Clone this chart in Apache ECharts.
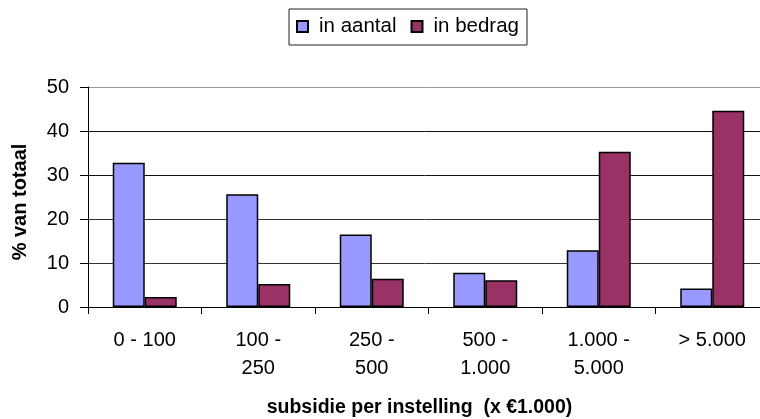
<!DOCTYPE html>
<html>
<head>
<meta charset="utf-8">
<script src="https://cdn.jsdelivr.net/npm/echarts@6/dist/echarts.min.js"></script>
<style>
  html, body { margin: 0; padding: 0; background: #fff; }
  #main { width: 760px; height: 419px; }
</style>
</head>
<body>
<div id="main"></div>
<script>
var categories = ['0 - 100', '100 -\n250', '250 -\n500', '500 -\n1.000', '1.000 -\n5.000', '> 5.000'];
var inAantal = [32.8, 25.6, 16.5, 7.8, 12.9, 4.2];
var inBedrag = [2.3, 5.2, 6.4, 6.1, 35.3, 44.6];

var font = 'Liberation Sans, Arial, sans-serif';

var option = {
    animation: false,
    backgroundColor: '#fff',
    textStyle: { fontFamily: font },
    legend: {
        top: 9,
        left: 289,
        padding: [7, 8, 8, 7],
        borderColor: '#222',
        borderWidth: 1,
        itemWidth: 11,
        itemHeight: 11,
        itemGap: 14,
        icon: 'rect',
        textStyle: { fontSize: 20.5, color: '#000', fontFamily: font, padding: [0, 0, 0, 6] },
        data: ['in aantal', 'in bedrag']
    },
    grid: {
        left: 88,
        top: 87,
        width: 681,
        height: 220,
        containLabel: false,
        outerBoundsMode: 'none'
    },
    xAxis: {
        type: 'category',
        data: categories,
        name: 'subsidie per instelling  (x \u20ac1.000)',
        nameLocation: 'middle',
        nameGap: 91,
        nameTextStyle: { fontSize: 19.5, fontWeight: 'bold', color: '#000', fontFamily: font, padding: [0, 18, 0, 0] },
        axisLine: { lineStyle: { color: '#000', width: 1 } },
        axisTick: { show: true, length: 7, lineStyle: { color: '#000' } },
        axisLabel: { fontSize: 20, color: '#000', margin: 19, lineHeight: 28, fontFamily: font }
    },
    yAxis: {
        type: 'value',
        min: 0,
        max: 50,
        interval: 10,
        name: '% van totaal',
        nameLocation: 'middle',
        nameGap: 58,
        nameRotate: 90,
        nameTextStyle: { fontSize: 20, fontWeight: 'bold', color: '#000', fontFamily: font, padding: [0, 10, 0, 0] },
        axisLine: { show: true, lineStyle: { color: '#000', width: 1 } },
        axisTick: { show: true, length: 8, lineStyle: { color: '#000' } },
        axisLabel: { fontSize: 20, color: '#000', margin: 19, fontFamily: font },
        splitLine: {
            show: true,
            lineStyle: { color: ['#000', '#333', '#333', '#111', '#111', '#999'], width: 1 }
        }
    },
    series: [
        {
            name: 'in aantal',
            type: 'bar',
            data: inAantal,
            barWidth: 32,
            barGap: '0%',
            itemStyle: { color: '#9999ff', borderColor: '#000', borderWidth: 1.5 }
        },
        {
            name: 'in bedrag',
            type: 'bar',
            data: inBedrag,
            barWidth: 32,
            itemStyle: { color: '#993366', borderColor: '#000', borderWidth: 1.5 }
        }
    ]
};

echarts.init(document.getElementById('main')).setOption(option);
</script>
</body>
</html>
